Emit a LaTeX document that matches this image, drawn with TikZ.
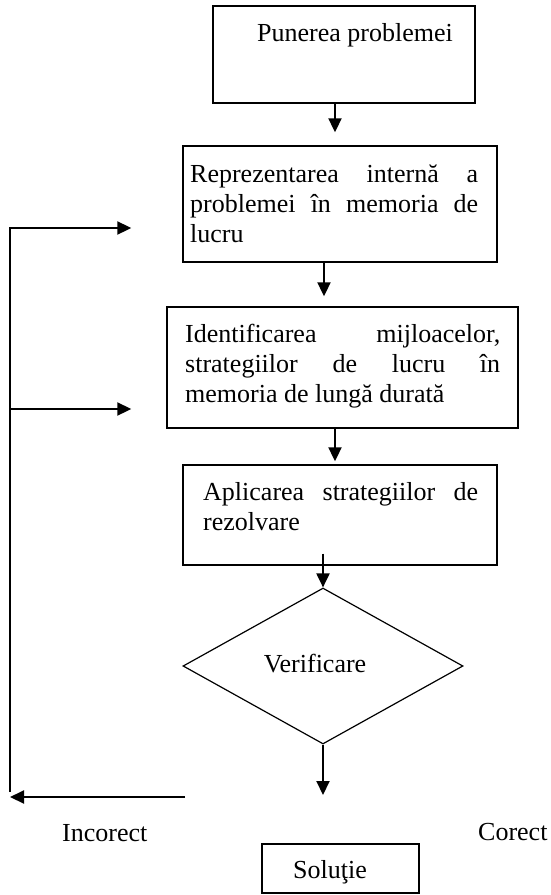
\documentclass[tikz,border=0pt]{standalone}
\usepackage{fontspec}
\setmainfont{Liberation Serif}
\usetikzlibrary{arrows.meta,shapes.geometric,calc}
\tikzset{
  boxnode/.style={draw, rectangle, line width=1.4pt, inner sep=0pt},
  txt/.style={inner sep=0pt, anchor=base west},
  arr/.style={line width=2pt, -{Triangle[length=14pt,width=13pt]}},
  plain/.style={line width=1.5pt},
}
\begin{document}
\begin{tikzpicture}[x=1pt,y=-1pt,font=\fontsize{26}{30}\selectfont]
\useasboundingbox (0,0) rectangle (551,895);
% boxes
\node[boxnode, minimum width=262pt, minimum height=97pt] (b1) at (344,54.5) {};
\node[boxnode, minimum width=314pt, minimum height=116pt] (b2) at (340,204) {};
\node[boxnode, minimum width=351pt, minimum height=121pt] (b3) at (342.5,367.5) {};
\node[boxnode, minimum width=314pt, minimum height=100pt] (b4) at (340,515) {};
\node[draw, diamond, line width=1.2pt, minimum width=280pt, minimum height=156pt, inner sep=0pt] (d) at (323,666) {};
\node[boxnode, minimum width=157pt, minimum height=49pt] (sol) at (340.5,868.5) {};
% texts
\node[txt] (t1) at (257,41) {Punerea problemei};
\node[txt] (t2) at (190,182) {\parbox[t]{288pt}{Reprezentarea internă a\linebreak problemei în memoria de\linebreak lucru}};
\node[txt] (t3) at (185,342) {\parbox[t]{315pt}{Identificarea mijloacelor,\linebreak strategiilor de lucru în\linebreak memoria de lungă durată}};
\node[txt] (t4) at (203,500) {\parbox[t]{275pt}{Aplicarea strategiilor de\linebreak rezolvare}};
\node[inner sep=0pt, anchor=base] (tv) at (315,672) {Verificare};
\node[txt] (tinc) at (62,841) {Incorect};
\node[txt] (tcor) at (478,840) {Corect};
\node[txt] (tsol) at (293,878) {Soluţie};
% coordinates
\coordinate (x1) at (335,0);
\coordinate (x2) at (324,0);
\coordinate (x3) at (323,0);
\coordinate (dend) at (323,795);
\coordinate (lstart) at (185,797);
\coordinate (lend) at (10,797);
\coordinate (lbot) at (10,792);
\coordinate (ltop) at (10,228);
\coordinate (lmid) at (10,409);
% connectors
\draw[arr, shorten >=13pt] (b1.south -| x1) -- (b2.north -| x1);
\draw[arr, shorten >=10pt] (b2.south -| x2) -- (b3.north -| x2);
\draw[arr, shorten >=3pt] (b3.south -| x1) -- (b4.north -| x1);
\draw[arr, shorten <=-12pt] (b4.south -| x3) -- (d.north);
\draw[arr] (d.south) -- (dend);
\draw[arr] (lstart) -- (lend);
\draw[plain] (lbot) -- (ltop);
\draw[arr, shorten >=51pt] ([xshift=-0.75pt]ltop) -- (b2.west |- ltop);
\draw[arr, shorten >=35pt] (lmid) -- (b3.west |- lmid);
\end{tikzpicture}
\end{document}
